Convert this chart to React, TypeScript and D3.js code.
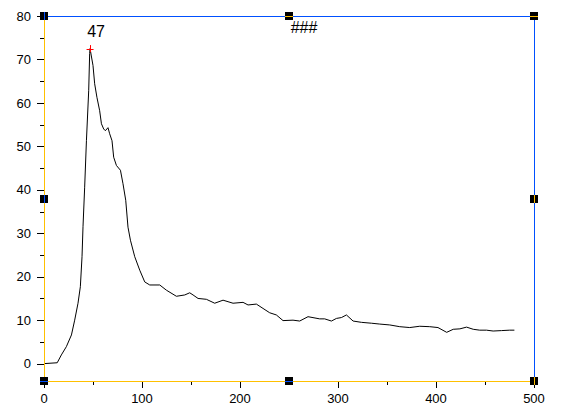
import React from "react";
import * as d3 from "d3";

const xValues = [0, 13.5, 17.7, 22.8, 28, 31.3, 34.7, 37.1, 38.8, 39.8, 41.5, 43.3, 45.6, 46.6, 47, 48.3, 50, 51.7, 54, 56.8, 58.6, 60.9, 62.6, 65.3, 67, 69.4, 71.1, 73.9, 78, 80.6, 83.4, 85.7, 88.2, 92.6, 97.7, 102.8, 107.9, 118.1, 124.9, 135.1, 143.6, 148.7, 152.1, 157.2, 165.7, 174.2, 182.7, 192.9, 203.1, 208.2, 216.7, 223.5, 230.3, 237.1, 243.9, 254.1, 260.9, 269.4, 281.3, 286.4, 293.3, 298.4, 303.5, 308.6, 315.4, 323.9, 334.1, 342.6, 352.8, 363, 373.2, 383.4, 393.6, 402, 410.9, 417.6, 424.4, 431.2, 438, 444.6, 451.5, 458.3, 466.8, 475.2, 480];
const yValues = [0, 0.2, 2.0, 3.9, 6.6, 10, 13.9, 17.7, 24.6, 31.5, 40.6, 51.3, 62.8, 71.4, 72.5, 70.8, 68.6, 64.4, 61.3, 58.2, 55.2, 54, 53.6, 54.3, 52.9, 51.3, 47.5, 45.6, 44.5, 41.4, 37.6, 31.4, 28.4, 24.6, 21.5, 18.8, 18.1, 18.1, 16.9, 15.5, 15.8, 16.3, 15.8, 15.0, 14.8, 13.9, 14.6, 13.9, 14.1, 13.5, 13.7, 12.7, 11.7, 11.2, 9.9, 10.0, 9.8, 10.8, 10.3, 10.3, 9.8, 10.4, 10.6, 11.2, 9.8, 9.5, 9.3, 9.1, 8.9, 8.5, 8.3, 8.6, 8.5, 8.3, 7.2, 7.9, 8.0, 8.4, 7.9, 7.7, 7.7, 7.5, 7.6, 7.7, 7.7];

const xMajorTicks = [0, 100, 200, 300, 400, 500];
const xMinorTicks = [50, 150, 250, 350, 450];
const yMajorTicks = [0, 10, 20, 30, 40, 50, 60, 70, 80];
const yMinorTicks = [5, 15, 25, 35, 45, 55, 65, 75];
const peakX = 47;
const peakY = 72.5;
const peakLabel = "47";
const titleText = "###";

const W = 562, H = 416;
const L = 44, R = 534, T = 16, B = 381;
const YELLOW = "#FFC000";
const BLUE = "#0050FF";
const FONT = "'Liberation Sans', Arial, sans-serif";

export default function App() {
  const x = d3.scaleLinear().domain([0, 500]).range([L, R]);
  const y = d3.scaleLinear().domain([-4, 80]).range([B, T]);
  const pts = xValues.map((v, i) => [v, yValues[i]] as [number, number]);
  const line = d3.line<[number, number]>().x(d => x(d[0])).y(d => y(d[1]));
  const midX = (L + R) / 2, midY = (T + B) / 2;
  const handles = [
    { cx: L, cy: T, inner: "v", color: BLUE },
    { cx: midX, cy: T, inner: "h", color: YELLOW },
    { cx: R, cy: T, inner: "h", color: YELLOW },
    { cx: L, cy: midY, inner: "v", color: BLUE },
    { cx: R, cy: midY, inner: "v", color: YELLOW },
    { cx: L, cy: B, inner: "h", color: BLUE },
    { cx: midX, cy: B, inner: "h", color: BLUE },
    { cx: R, cy: B, inner: "v", color: YELLOW },
  ];
  return (
    <svg width={W} height={H} style={{ position: "absolute", left: 0, top: 0, background: "#fff" }} fontFamily={FONT}>
      <rect x={0} y={0} width={W} height={H} fill="#fff" />
      {/* y ticks */}
      {yMajorTicks.map(t => (
        <g key={"ym" + t}>
          <line x1={L - 7} x2={L} y1={Math.round(y(t)) + 0.5} y2={Math.round(y(t)) + 0.5} stroke="#000" />
          <text x={31} y={y(t)} dy="0.36em" textAnchor="end" fontSize={13}>{t}</text>
        </g>
      ))}
      {yMinorTicks.map(t => (
        <line key={"yn" + t} x1={L - 4} x2={L} y1={Math.round(y(t)) + 0.5} y2={Math.round(y(t)) + 0.5} stroke="#000" />
      ))}
      {xMajorTicks.map(t => (
        <g key={"xm" + t}>
          <line x1={Math.round(x(t)) + 0.5} x2={Math.round(x(t)) + 0.5} y1={B} y2={B + 7} stroke="#000" />
          <text x={x(t)} y={403} textAnchor="middle" fontSize={13}>{t}</text>
        </g>
      ))}
      {xMinorTicks.map(t => (
        <line key={"xn" + t} x1={Math.round(x(t)) + 0.5} x2={Math.round(x(t)) + 0.5} y1={B} y2={B + 4} stroke="#000" />
      ))}
      {/* data line */}
      <path d={line(pts) || ""} fill="none" stroke="#000" strokeWidth={1} />
      {/* frame */}
      <line x1={L} x2={R} y1={T + 0.5} y2={T + 0.5} stroke={BLUE} />
      <line x1={R + 0.5} x2={R + 0.5} y1={T} y2={B} stroke={BLUE} />
      <line x1={L + 0.5} x2={L + 0.5} y1={T} y2={B} stroke={YELLOW} />
      <line x1={L} x2={R} y1={B + 0.5} y2={B + 0.5} stroke={YELLOW} />
      {/* handles */}
      {handles.map((h, i) => (
        <g key={"h" + i}>
          <rect x={Math.round(h.cx) - 4} y={Math.round(h.cy) - 4} width={8} height={8} fill="#000" />
          {h.inner === "v" ? (
            <line x1={Math.round(h.cx) + 0.5} x2={Math.round(h.cx) + 0.5} y1={Math.round(h.cy) - 4} y2={Math.round(h.cy) + 4} stroke={h.color} />
          ) : (
            <line x1={Math.round(h.cx) - 4} x2={Math.round(h.cx) + 4} y1={Math.round(h.cy) + 0.5} y2={Math.round(h.cy) + 0.5} stroke={h.color} />
          )}
        </g>
      ))}
      {/* peak marker */}
      <g stroke="#FF0000" strokeWidth={1}>
        <line x1={x(peakX) - 3.5} x2={x(peakX) + 3.5} y1={Math.round(y(peakY)) + 0.5} y2={Math.round(y(peakY)) + 0.5} />
        <line x1={Math.round(x(peakX)) + 0.5} x2={Math.round(x(peakX)) + 0.5} y1={y(peakY) - 3.5} y2={y(peakY) + 3.5} />
      </g>
      <text x={x(peakX) + 6} y={37} textAnchor="middle" fontSize={16}>{peakLabel}</text>
      <text x={304} y={33} textAnchor="middle" fontSize={16}>{titleText}</text>
    </svg>
  );
}
